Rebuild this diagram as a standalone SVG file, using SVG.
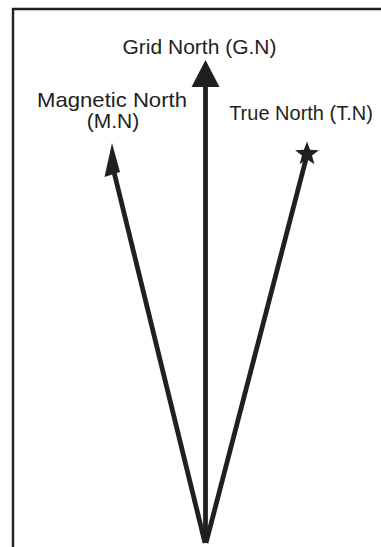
<svg xmlns="http://www.w3.org/2000/svg" width="381" height="547" viewBox="0 0 381 547">
  <style>
    .frame { fill: none; stroke: #231f20; stroke-width: 2.4; }
    .shaft { fill: none; stroke: #231f20; stroke-width: 4.8; stroke-linecap: butt; }
    .head { fill: #231f20; stroke: none; }
    .label { font-family: "Liberation Sans", Arial, sans-serif; font-size: 20px; fill: #231f20; text-anchor: middle; }
    .big { font-size: 21px; }
  </style>
  <rect width="381" height="547" fill="#ffffff"/>
  <g id="frame">
    <polyline class="frame" points="13,547 13,9 381,9"/>
  </g>
  <g id="connectors">
    <line class="shaft" x1="205.5" y1="543" x2="205.5" y2="84"/>
    <line class="shaft" x1="205" y1="543" x2="114" y2="172"/>
    <line class="shaft" x1="206" y1="543" x2="306" y2="159"/>
  </g>
  <g id="grid-north">
    <polygon class="head" points="205.5,60 191.5,87 219.5,87"/>
    <text class="label big" x="199.5" y="54">Grid North (G.N)</text>
  </g>
  <g id="magnetic-north">
    <polygon class="head" points="112,143 104.5,177 120,172"/>
    <text class="label big" x="112" y="107" textLength="150" lengthAdjust="spacingAndGlyphs">Magnetic North</text>
    <text class="label big" x="113" y="128">(M.N)</text>
  </g>
  <g id="true-north">
    <polygon class="head" points="307,141.5 310.1,149.8 318.9,150.2 312,155.6 314.4,164.3 307,159.3 299.6,164.3 302,155.6 295.1,150.2 303.9,149.8"/>
    <text class="label" x="301" y="120">True North (T.N)</text>
  </g>
</svg>
